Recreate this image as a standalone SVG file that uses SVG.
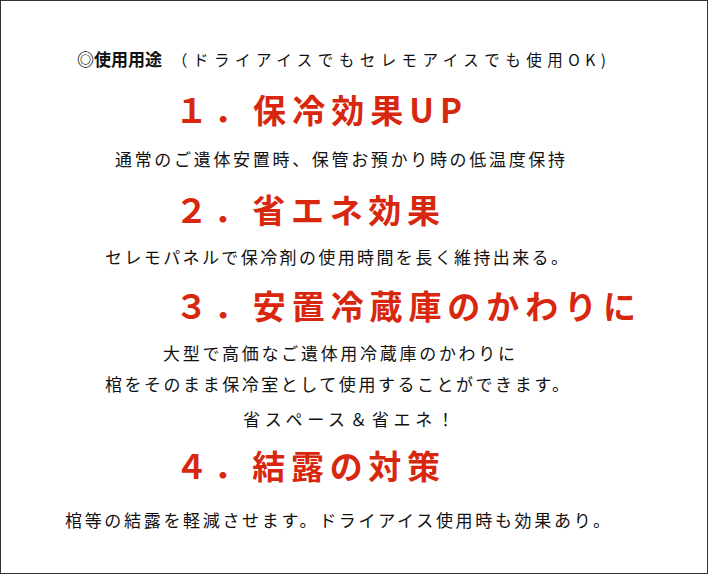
<svg xmlns="http://www.w3.org/2000/svg" width="708" height="574" viewBox="0 0 708 574">
<style>
text{font-family:"Noto Sans CJK JP","Liberation Sans",sans-serif;fill:#111}
.h{font-size:33px;font-weight:bold;fill:#d8270f}
.b{font-size:17px}
</style>
<rect x="0.5" y="0.5" width="707" height="573" fill="#fff" stroke="#333"/>
<g id="header">
<text x="77" y="66" font-size="17" font-weight="bold">◎使用用途</text>
<text x="172" y="66" font-size="15.5" textLength="434" lengthAdjust="spacing">（ドライアイスでもセレモアイスでも使用OK)</text>
</g>
<g id="item1">
<text class="h" x="175" y="123" textLength="287" lengthAdjust="spacing">１．保冷効果UP</text>
<text class="b" x="115" y="166" textLength="450" lengthAdjust="spacing">通常のご遺体安置時、保管お預かり時の低温度保持</text>
</g>
<g id="item2">
<text class="h" x="175" y="223" textLength="265" lengthAdjust="spacing">２．省エネ効果</text>
<text class="b" x="105" y="264" textLength="463" lengthAdjust="spacing">セレモパネルで保冷剤の使用時間を長く維持出来る。</text>
</g>
<g id="item3">
<text class="h" x="175" y="319" textLength="461" lengthAdjust="spacing">３．安置冷蔵庫のかわりに</text>
<text class="b" x="163" y="360" textLength="352" lengthAdjust="spacing">大型で高価なご遺体用冷蔵庫のかわりに</text>
<text class="b" x="105" y="391" textLength="464" lengthAdjust="spacing">棺をそのまま保冷室として使用することができます。</text>
<text class="b" x="243" y="426" textLength="211" lengthAdjust="spacing">省スペース＆省エネ！</text>
</g>
<g id="item4">
<text class="h" x="175" y="479" textLength="265" lengthAdjust="spacing">４．結露の対策</text>
<text class="b" x="65" y="527" textLength="545" lengthAdjust="spacing">棺等の結露を軽減させます。ドライアイス使用時も効果あり。</text>
</g>
<g id="connectors"/>
</svg>
